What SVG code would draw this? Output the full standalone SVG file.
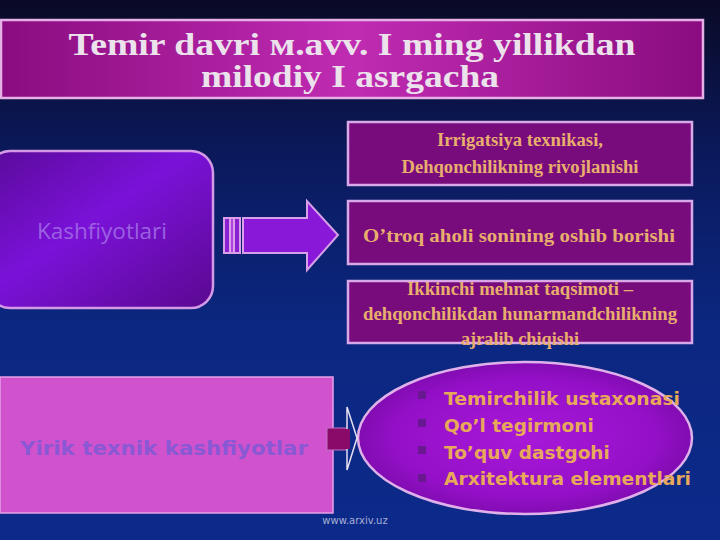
<svg xmlns="http://www.w3.org/2000/svg" width="720" height="540" viewBox="0 0 720 540">
  <defs>
    <linearGradient id="bg" x1="0" y1="0" x2="0" y2="1">
      <stop offset="0" stop-color="#0a0a26"/>
      <stop offset="0.3" stop-color="#0b1a5e"/>
      <stop offset="0.6" stop-color="#0b2780"/>
      <stop offset="1" stop-color="#0c2a8a"/>
    </linearGradient>
    <linearGradient id="title" x1="0" y1="0" x2="1" y2="0">
      <stop offset="0" stop-color="#8a0c80"/>
      <stop offset="0.5" stop-color="#c02cb2"/>
      <stop offset="1" stop-color="#8a0c80"/>
    </linearGradient>
    <linearGradient id="kash" x1="0" y1="0" x2="1" y2="1">
      <stop offset="0" stop-color="#5a0a9a"/>
      <stop offset="0.45" stop-color="#7a12d8"/>
      <stop offset="1" stop-color="#5a0890"/>
    </linearGradient>
    <radialGradient id="ell" cx="0.5" cy="0.5" r="0.55">
      <stop offset="0" stop-color="#a818d8"/>
      <stop offset="0.7" stop-color="#9410c8"/>
      <stop offset="1" stop-color="#7a0aa8"/>
    </radialGradient>
    <style>
      .box { fill: #780c7c; stroke: #d8a8e8; stroke-width: 2.5; }
      .btxt { font-family: "Liberation Serif", "DejaVu Serif", serif; font-weight: bold; fill: #e8ae6e; text-anchor: middle; font-size: 18px; }
      .etxt { font-family: "DejaVu Sans", "Liberation Sans", sans-serif; font-weight: bold; fill: #e8a85a; font-size: 18.5px; }
      .ttl { font-family: "Liberation Serif", "DejaVu Serif", serif; font-weight: bold; fill: #ece2ec; font-size: 31px; text-anchor: middle; }
    </style>
  </defs>

  <rect x="0" y="0" width="720" height="540" fill="url(#bg)"/>

  <g id="title-node">
    <rect x="1" y="20" width="702" height="78" fill="url(#title)" stroke="#e6b0e6" stroke-width="2.5"/>
    <text class="ttl" x="352" y="55" textLength="567" lengthAdjust="spacingAndGlyphs">Temir davri м.avv. I ming yillikdan</text>
    <text class="ttl" x="350" y="87" textLength="298" lengthAdjust="spacingAndGlyphs">milodiy I asrgacha</text>
  </g>

  <g id="kashfiyotlari">
    <rect x="-12" y="151" width="225" height="157" rx="22" fill="url(#kash)" stroke="#d49ae6" stroke-width="2.5"/>
    <text x="102" y="239" font-family="'Open Sans', 'DejaVu Sans', sans-serif" font-size="21" fill="#9c60e2" text-anchor="middle" textLength="130" lengthAdjust="spacingAndGlyphs">Kashfiyotlari</text>
  </g>

  <g id="irrigatsiya">
    <rect class="box" x="348" y="122" width="344" height="63"/>
    <text class="btxt" x="520" y="146" textLength="166" lengthAdjust="spacingAndGlyphs">Irrigatsiya texnikasi,</text>
    <text class="btxt" x="520" y="173" textLength="237" lengthAdjust="spacingAndGlyphs">Dehqonchilikning rivojlanishi</text>
  </g>

  <g id="otroq">
    <rect class="box" x="348" y="201" width="344" height="63"/>
    <text class="btxt" x="519" y="242" font-size="20" textLength="312" lengthAdjust="spacingAndGlyphs">O’troq aholi sonining oshib borishi</text>
  </g>

  <g id="ikkinchi">
    <rect class="box" x="348" y="281" width="344" height="62"/>
    <text class="btxt" x="520" y="295" textLength="226" lengthAdjust="spacingAndGlyphs">Ikkinchi mehnat taqsimoti –</text>
    <text class="btxt" x="520" y="320" textLength="314" lengthAdjust="spacingAndGlyphs">dehqonchilikdan hunarmandchilikning</text>
    <text class="btxt" x="520" y="345" textLength="118" lengthAdjust="spacingAndGlyphs">ajralib chiqishi</text>
  </g>

  <g id="yirik">
    <rect x="0" y="377" width="333" height="136" fill="#d052cc" stroke="#e8a0e8" stroke-width="1.5"/>
    <text x="164" y="455" font-family="'DejaVu Sans', 'Liberation Sans', sans-serif" font-weight="bold" font-size="20" fill="#8a58d4" text-anchor="middle" textLength="288" lengthAdjust="spacingAndGlyphs">Yirik texnik kashfiyotlar</text>
  </g>

  <g id="ixtirolar">
    <ellipse cx="525" cy="438" rx="167" ry="76" fill="url(#ell)" stroke="#e0b0ea" stroke-width="2.5"/>
    <g fill="#6a1892">
      <rect x="418" y="391" width="8" height="8"/>
      <rect x="418" y="419" width="8" height="8"/>
      <rect x="418" y="446" width="8" height="8"/>
      <rect x="418" y="474" width="8" height="8"/>
    </g>
    <text class="etxt" x="444" y="405" textLength="236" lengthAdjust="spacingAndGlyphs">Temirchilik ustaxonasi</text>
    <text class="etxt" x="444" y="432">Qo’l tegirmoni</text>
    <text class="etxt" x="444" y="459">To’quv dastgohi</text>
    <text class="etxt" x="444" y="485" textLength="247" lengthAdjust="spacingAndGlyphs">Arxitektura elementlari</text>
  </g>

  <g id="connectors">
    <g stroke="#d8a0e8" stroke-width="2">
      <rect x="224" y="218" width="6" height="35" fill="#8a20d0"/>
      <rect x="230" y="218" width="4" height="35" fill="#b040e0"/>
      <rect x="234" y="218" width="6" height="35" fill="#8a20d0"/>
      <polygon points="243,218 307,218 307,201 338,235 307,270 307,253 243,253" fill="#8a18d8"/>
    </g>
    <rect x="327" y="428" width="25" height="22" fill="#8a0a6a" stroke="#c070c8" stroke-width="1"/>
    <polygon points="347,407 357,438 347,470" fill="#0c2a8a" stroke="#e8e0f0" stroke-width="1.5"/>
    <rect x="340" y="429" width="10" height="20" fill="#8a0a6a"/>
  </g>

  <text x="355" y="524" font-family="'DejaVu Sans', sans-serif" font-size="10" fill="#a8b0d8" text-anchor="middle">www.arxiv.uz</text>
</svg>
